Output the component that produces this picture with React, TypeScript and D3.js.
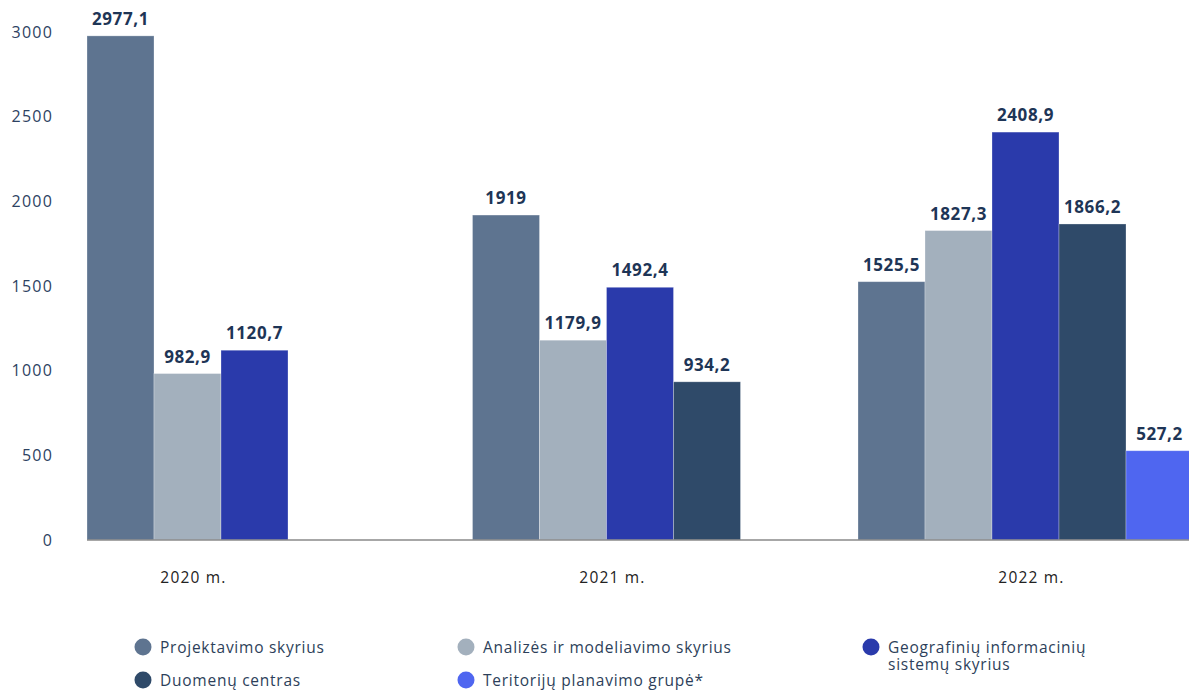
import React from "react";
import * as d3 from "d3";

const years = ["2020 m.", "2021 m.", "2022 m."];
const seriesNames = [
  "Projektavimo skyrius",
  "Analizės ir modeliavimo skyrius",
  "Geografinių informacinių sistemų skyrius",
  "Duomenų centras",
  "Teritorijų planavimo grupė*",
];
const seriesColors = ["#5e7490", "#a3b0bd", "#2a3aab", "#2f4a69", "#4f66f0"];
const projektavimo = [2977.1, 1919, 1525.5];
const analizes = [982.9, 1179.9, 1827.3];
const gis = [1120.7, 1492.4, 2408.9];
const duomenu = [null, 934.2, 1866.2];
const teritoriju = [null, null, 527.2];
const seriesValues: (number | null)[][] = [projektavimo, analizes, gis, duomenu, teritoriju];
const yTicks = [0, 500, 1000, 1500, 2000, 2500, 3000];

const W = 1189;
const H = 691;
const FONT = "'Open Sans', sans-serif";

export default function App() {
  const y = d3.scaleLinear().domain([0, 3000]).range([540, 32]);
  const x0 = d3.scaleBand<string>().domain(years).range([87, 87 + 3 * 385.5]).paddingInner(0).paddingOuter(0);
  const x1 = d3.scaleBand<string>().domain(seriesNames).range([0, 335]).padding(0);
  const fmt = (v: number) => String(v).replace(".", ",");

  const legendItems = [
    { i: 0, x: 143, y: 647, lines: ["Projektavimo skyrius"] },
    { i: 1, x: 466, y: 647, lines: ["Analizės ir modeliavimo skyrius"] },
    { i: 2, x: 871, y: 647, lines: ["Geografinių informacinių", "sistemų skyrius"] },
    { i: 3, x: 143, y: 680, lines: ["Duomenų centras"] },
    { i: 4, x: 466, y: 680, lines: ["Teritorijų planavimo grupė*"] },
  ];

  return (
    <svg width={W} height={H} style={{ position: "absolute", left: 0, top: 0 }} fontFamily={FONT}>
      {yTicks.map((t) => (
        <text key={t} x={53} y={y(t)} dy="0.36em" textAnchor="end" fontSize={16} letterSpacing={1.2} fill="#2d4262">
          {t}
        </text>
      ))}
      {years.map((yr, gi) => {
        const gx = x0(yr)!;
        const present = seriesValues.filter((s) => s[gi] != null).length;
        const center = gx + (present * x1.bandwidth()) / 2 + 6;
        return (
          <g key={yr}>
            {seriesNames.map((name, si) => {
              const v = seriesValues[si][gi];
              if (v == null) return null;
              const bx = gx + x1(name)!;
              return (
                <g key={name}>
                  <rect
                    x={bx}
                    y={y(v)}
                    width={x1.bandwidth()}
                    height={y(0) - y(v)}
                    fill={seriesColors[si]}
                    stroke="#ffffff"
                    strokeOpacity={0.35}
                    strokeWidth={0.8}
                  />
                  <text
                    x={bx + x1.bandwidth() / 2}
                    y={y(v) - 11}
                    textAnchor="middle"
                    fontSize={17}
                    fontWeight={700}
                    letterSpacing={0.6}
                    fill="#1e3556"
                  >
                    {fmt(v)}
                  </text>
                </g>
              );
            })}
            <text x={center} y={583} textAnchor="middle" fontSize={15.5} letterSpacing={1.2} fill="#222222">
              {yr}
            </text>
          </g>
        );
      })}
      <line x1={87} x2={W} y1={y(0)} y2={y(0)} stroke="#8a8a8a" strokeWidth={1.5} />
      {legendItems.map(({ i, x, y: ly, lines }) => (
        <g key={i}>
          <circle cx={x} cy={ly} r={8.5} fill={seriesColors[i]} />
          {lines.map((ln, k) => (
            <text key={k} x={x + 17} y={ly + 6 + k * 17} fontSize={15.5} letterSpacing={0.75} fill="#2d3f5a">
              {ln}
            </text>
          ))}
        </g>
      ))}
    </svg>
  );
}
